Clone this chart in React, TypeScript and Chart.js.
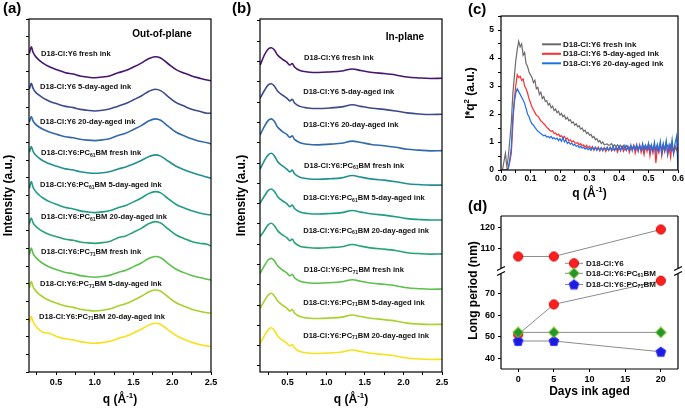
import { useEffect, useRef } from 'react';
import { Chart, registerables } from 'chart.js';
Chart.register(...registerables);

const FONT = "'Liberation Sans', Arial, Helvetica, sans-serif";

// ---------- Panel (a): out-of-plane ----------
const qA = [0.155, 0.18, 0.2, 0.23, 0.28, 0.33, 0.42, 0.52, 0.62, 0.72, 0.81, 0.9, 1.0, 1.1, 1.2, 1.3, 1.4, 1.5, 1.6, 1.7, 1.78, 1.85, 1.95, 2.05, 2.15, 2.25, 2.35, 2.45, 2.5];
const a1 = [18.05, 18.43, 18.14, 17.9, 17.67, 17.5, 17.28, 17.11, 16.96, 16.88, 16.77, 16.71, 16.67, 16.71, 16.79, 16.95, 17.08, 17.28, 17.5, 17.76, 17.86, 17.79, 17.45, 17.13, 16.94, 16.77, 16.65, 16.54, 16.5];
const a2 = [16.02, 16.36, 16.1, 15.88, 15.68, 15.53, 15.33, 15.18, 15.05, 14.98, 14.88, 14.83, 14.79, 14.83, 14.91, 15.06, 15.21, 15.42, 15.64, 15.91, 16.02, 15.94, 15.59, 15.26, 15.07, 14.89, 14.77, 14.66, 14.66];
const a3 = [14.17, 14.47, 14.24, 14.06, 13.88, 13.75, 13.58, 13.45, 13.33, 13.27, 13.19, 13.14, 13.11, 13.15, 13.23, 13.4, 13.53, 13.74, 13.96, 14.23, 14.34, 14.26, 13.91, 13.58, 13.39, 13.21, 13.07, 12.99, 12.92];
const a4 = [12.45, 12.77, 12.52, 12.32, 12.12, 11.97, 11.78, 11.64, 11.51, 11.44, 11.35, 11.29, 11.26, 11.29, 11.36, 11.5, 11.62, 11.79, 11.98, 12.21, 12.3, 12.23, 11.94, 11.66, 11.46, 11.3, 11.16, 11.04, 10.98];
const a5 = [10.41, 10.79, 10.5, 10.26, 10.03, 9.86, 9.64, 9.47, 9.32, 9.24, 9.13, 9.07, 9.03, 9.07, 9.15, 9.31, 9.44, 9.64, 9.86, 10.12, 10.22, 10.15, 9.81, 9.49, 9.3, 9.13, 9.01, 8.92, 8.9];
const a6 = [8.41, 8.72, 8.48, 8.29, 8.1, 7.96, 7.78, 7.65, 7.52, 7.46, 7.37, 7.32, 7.29, 7.33, 7.41, 7.61, 7.71, 7.92, 8.14, 8.41, 8.52, 8.44, 8.09, 7.76, 7.57, 7.39, 7.29, 7.24, 7.14];
const a7 = [6.67, 7.02, 6.75, 6.53, 6.31, 6.15, 5.94, 5.78, 5.64, 5.57, 5.46, 5.41, 5.37, 5.41, 5.49, 5.64, 5.77, 5.97, 6.18, 6.44, 6.54, 6.47, 6.13, 5.82, 5.63, 5.47, 5.35, 5.26, 5.22];
const a8 = [4.77, 5.13, 4.86, 4.63, 4.41, 4.25, 4.04, 3.88, 3.74, 3.66, 3.56, 3.5, 3.46, 3.5, 3.58, 3.74, 3.87, 4.07, 4.29, 4.55, 4.65, 4.58, 4.24, 3.92, 3.73, 3.56, 3.44, 3.36, 3.33];
const a9 = [2.82, 3.14, 2.89, 2.63, 2.41, 2.25, 2.18, 1.99, 1.88, 1.81, 1.72, 1.66, 1.63, 1.67, 1.74, 1.9, 2.02, 2.21, 2.42, 2.67, 2.76, 2.69, 2.37, 2.07, 1.85, 1.69, 1.56, 1.48, 1.44];

// ---------- Panel (b): in-plane ----------
const qB = [0.145, 0.2, 0.25, 0.29, 0.33, 0.37, 0.43, 0.49, 0.53, 0.56, 0.59, 0.66, 0.76, 0.9, 1.05, 1.2, 1.34, 1.45, 1.6, 1.75, 1.9, 2.05, 2.2, 2.35, 2.5];
const b1 = [17.39, 17.96, 18.3, 18.37, 18.24, 17.96, 17.73, 17.56, 17.39, 17.48, 17.28, 17.08, 17.0, 16.97, 17.0, 17.05, 17.17, 17.08, 16.97, 16.91, 16.83, 16.71, 16.66, 16.63, 16.64];
const b2 = [15.51, 15.95, 16.27, 16.33, 16.19, 15.92, 15.7, 15.52, 15.36, 15.45, 15.24, 15.05, 14.96, 14.93, 14.96, 15.02, 15.14, 15.05, 14.94, 14.88, 14.79, 14.68, 14.62, 14.59, 14.6];
const b3 = [13.43, 13.92, 14.26, 14.34, 14.19, 13.88, 13.64, 13.46, 13.3, 13.38, 13.18, 12.99, 12.9, 12.87, 12.91, 12.96, 13.08, 13.0, 12.88, 12.82, 12.73, 12.62, 12.57, 12.53, 12.54];
const b4 = [11.5, 11.98, 12.3, 12.39, 12.24, 11.93, 11.69, 11.5, 11.34, 11.44, 11.23, 11.03, 10.95, 10.92, 10.95, 11.0, 11.13, 11.04, 10.93, 10.87, 10.78, 10.67, 10.62, 10.59, 10.59];
const b5 = [9.57, 9.97, 10.29, 10.37, 10.23, 9.95, 9.71, 9.54, 9.37, 9.46, 9.26, 9.06, 8.98, 8.95, 8.98, 9.03, 9.15, 9.06, 8.95, 8.89, 8.8, 8.69, 8.64, 8.61, 8.61];
const b6 = [7.67, 8.02, 8.35, 8.43, 8.29, 8.01, 7.78, 7.61, 7.44, 7.53, 7.33, 7.13, 7.05, 7.02, 7.05, 7.1, 7.22, 7.13, 7.02, 6.96, 6.88, 6.76, 6.71, 6.68, 6.69];
const b7 = [5.59, 6.03, 6.36, 6.44, 6.3, 6.02, 5.79, 5.62, 5.45, 5.54, 5.34, 5.14, 5.06, 5.03, 5.06, 5.11, 5.23, 5.14, 5.03, 4.97, 4.89, 4.77, 4.72, 4.69, 4.7];
const b8 = [3.61, 4.03, 4.37, 4.46, 4.31, 4.03, 3.8, 3.62, 3.45, 3.54, 3.34, 3.14, 3.06, 3.03, 3.06, 3.11, 3.23, 3.14, 3.03, 2.97, 2.89, 2.77, 2.72, 2.69, 2.7];
const b9 = [1.63, 2.05, 2.4, 2.51, 2.35, 2.05, 1.82, 1.64, 1.47, 1.56, 1.36, 1.16, 1.08, 1.05, 1.08, 1.13, 1.25, 1.16, 1.05, 0.99, 0.91, 0.79, 0.74, 0.71, 0.72];

const sampleNames = [
  'D18-Cl:Y6 fresh ink',
  'D18-Cl:Y6 5-day-aged ink',
  'D18-Cl:Y6 20-day-aged ink',
  'D18-Cl:Y6:PC_{61}BM fresh ink',
  'D18-Cl:Y6:PC_{61}BM 5-day-aged ink',
  'D18-Cl:Y6:PC_{61}BM 20-day-aged ink',
  'D18-Cl:Y6:PC_{71}BM fresh ink',
  'D18-Cl:Y6:PC_{71}BM 5-day-aged ink',
  'D18-Cl:Y6:PC_{71}BM 20-day-aged ink',
];
// label anchors (q, intensity) in data units
const labelQA = [0.306, 0.293, 0.293, 0.306, 0.293, 0.306, 0.306, 0.293, 0.28];
const labelIA = [18.02, 16.13, 14.18, 12.39, 10.59, 8.76, 6.78, 4.99, 3.13];
const labelQB = [0.714, 0.702, 0.702, 0.714, 0.702, 0.702, 0.711, 0.702, 0.702];
const labelIB = [17.77, 15.85, 13.99, 11.69, 9.84, 8.01, 5.78, 3.93, 2.06];
const waterfallColors = ['#46166f', '#3c4a8c', '#3069ad', '#22908f', '#1f9c86', '#27a474', '#5bc14c', '#a7d22b', '#f6e11a'];

// ---------- Panel (c): I*q^2 ----------
const qC = [
  0.005, 0.01, 0.015, 0.02, 0.025, 0.03, 0.035, 0.04, 0.045, 0.05,
  0.055, 0.06, 0.065, 0.07, 0.075, 0.08, 0.085, 0.09, 0.095, 0.1,
  0.105, 0.11, 0.115, 0.12, 0.125, 0.13, 0.135, 0.14, 0.145, 0.15,
  0.155, 0.16, 0.165, 0.17, 0.175, 0.18, 0.185, 0.19, 0.195, 0.2,
  0.205, 0.21, 0.215, 0.22, 0.225, 0.23, 0.235, 0.24, 0.245, 0.25,
  0.255, 0.26, 0.265, 0.27, 0.275, 0.28, 0.285, 0.29, 0.295, 0.3,
  0.305, 0.31, 0.315, 0.32, 0.325, 0.33, 0.335, 0.34, 0.345, 0.35,
  0.355, 0.36, 0.365, 0.37, 0.375, 0.38, 0.385, 0.39, 0.395, 0.4,
  0.405, 0.41, 0.415, 0.42, 0.425, 0.43, 0.435, 0.44, 0.445, 0.45,
  0.455, 0.46, 0.465, 0.47, 0.475, 0.48, 0.485, 0.49, 0.495, 0.5,
  0.505, 0.51, 0.515, 0.52, 0.525, 0.53, 0.535, 0.54, 0.545, 0.55,
  0.555, 0.56, 0.565, 0.57, 0.575, 0.58, 0.585, 0.59, 0.595, 0.6,
];
const freshC = [
  0, 0.3, 0.6, 0.1, 0.5, 1.1, 1.7, 2.7, 3.3, 3.9,
  4.3, 4.6, 4.4, 4.5, 4.1, 4.2, 3.8, 3.7, 3.5, 3.4,
  3.3, 3.12, 3.2, 2.9, 2.95, 2.7, 2.78, 2.55, 2.62, 2.45,
  2.48, 2.32, 2.38, 2.22, 2.28, 2.12, 2.18, 2.05, 2.1, 1.96,
  2.02, 1.9, 1.95, 1.82, 1.88, 1.76, 1.8, 1.68, 1.72, 1.6,
  1.65, 1.54, 1.58, 1.46, 1.5, 1.38, 1.42, 1.3, 1.34, 1.24,
  1.27, 1.16, 1.2, 1.08, 1.12, 1.0, 1.05, 0.95, 1.0, 0.9,
  0.92, 0.93, 0.88, 0.9, 0.94, 0.84, 0.9, 0.83, 0.9, 0.82,
  0.88, 0.8, 0.88, 0.78, 0.87, 0.8, 0.76, 0.86, 0.78, 0.88,
  0.76, 0.85, 0.77, 0.87, 0.78, 0.74, 0.86, 0.76, 0.84, 0.74,
  0.88, 0.78, 0.72, 0.84, 0.76, 0.9, 0.72, 0.84, 0.76, 0.92,
  0.7, 0.82, 0.88, 0.68, 0.9, 0.76, 0.66, 0.86, 0.72, 0.8,
];
const aged5C = [
  0, 0, 0, 0, 0.1, 0.3, 0.6, 1.6, 2.5, 3.0,
  3.4, 3.3, 3.35, 3.2, 3.25, 3.0, 2.9, 2.75, 2.55, 2.4,
  2.25, 2.15, 2.05, 1.95, 1.92, 1.85, 1.75, 1.72, 1.65, 1.6,
  1.52, 1.48, 1.42, 1.38, 1.4, 1.3, 1.32, 1.25, 1.28, 1.2,
  1.22, 1.15, 1.2, 1.1, 1.14, 1.05, 1.08, 1.0, 1.04, 0.98,
  0.95, 0.98, 0.9, 0.94, 0.86, 0.9, 0.82, 0.88, 0.8, 0.85,
  0.76, 0.84, 0.7, 0.8, 0.74, 0.82, 0.68, 0.78, 0.72, 0.8,
  0.66, 0.76, 0.7, 0.82, 0.68, 0.75, 0.7, 0.8, 0.64, 0.78,
  0.72, 0.84, 0.66, 0.76, 0.7, 0.85, 0.62, 0.78, 0.72, 0.88,
  0.6, 0.8, 0.7, 0.9, 0.62, 0.82, 0.55, 0.86, 0.66, 0.92,
  0.5, 0.84, 0.6, 0.9, 0.25, 0.8, 0.62, 0.95, 0.5, 0.86,
  0.65, 0.96, 0.55, 0.85, 0.45, 0.9, 0.6, 0.82, 0.7, 0.75,
];
const aged20C = [
  0, 0, 0, 0, 0.05, 0.4, 0.8, 1.9, 2.4, 2.75,
  2.9, 2.8, 2.7, 2.6, 2.5, 2.38, 2.2, 2.0, 1.9, 1.75,
  1.65, 1.6, 1.52, 1.45, 1.38, 1.35, 1.3, 1.26, 1.22, 1.24,
  1.18, 1.2, 1.15, 1.2, 1.12, 1.15, 1.1, 1.14, 1.05, 1.12,
  1.02, 1.15, 1.0, 1.08, 0.95, 1.0, 0.92, 0.96, 0.88, 0.92,
  0.84, 0.88, 0.8, 0.85, 0.78, 0.82, 0.75, 0.8, 0.72, 0.78,
  0.7, 0.8, 0.74, 0.82, 0.7, 0.78, 0.72, 0.8, 0.68, 0.78,
  0.74, 0.82, 0.7, 0.8, 0.72, 0.85, 0.7, 0.8, 0.74, 0.86,
  0.68, 0.82, 0.75, 0.88, 0.7, 0.84, 0.72, 0.9, 0.68, 0.85,
  0.74, 0.92, 0.66, 0.86, 0.72, 0.95, 0.68, 0.88, 0.75, 0.96,
  0.65, 0.9, 0.7, 1.0, 0.62, 0.92, 0.68, 1.02, 0.6, 0.95,
  0.7, 1.05, 0.55, 0.9, 0.72, 1.1, 0.58, 0.95, 1.2, 0,
];
const legendC = ['D18-Cl:Y6 fresh ink', 'D18-Cl:Y6 5-day-aged ink', 'D18-Cl:Y6 20-day-aged ink'];
const colorsC = ['#6b6b6b', '#ff2d2d', '#1f6fe6'];

// ---------- Panel (d): long period ----------
const daysD = [0, 5, 20];
const y6LongD = [106, 106, 119];
const y6ShortD = [51, 65, 76];
const pc61D = [52, 52, 52];
const pc71D = [48, 48, 43];
const legendD = ['D18-Cl:Y6', 'D18-Cl:Y6:PC_{61}BM', 'D18-Cl:Y6:PC_{71}BM'];

// ---------- helpers ----------
type Seg = { t: string; k: number };
function segs(s: string): Seg[] {
  const out: Seg[] = [];
  const re = /([_^])\{([^}]*)\}/g;
  let last = 0;
  let m: RegExpExecArray | null;
  while ((m = re.exec(s))) {
    if (m.index > last) out.push({ t: s.slice(last, m.index), k: 0 });
    out.push({ t: m[2], k: m[1] === '_' ? 1 : 2 });
    last = re.lastIndex;
  }
  if (last < s.length) out.push({ t: s.slice(last), k: 0 });
  return out;
}
function drawRich(ctx: CanvasRenderingContext2D, s: string, x: number, y: number, size: number, align = 'left', rot = 0, color = '#000') {
  const parts = segs(s);
  const big = `bold ${size}px ${FONT}`;
  const small = `bold ${(size * 0.66).toFixed(2)}px ${FONT}`;
  ctx.save();
  ctx.translate(x, y);
  if (rot) ctx.rotate(rot);
  ctx.textBaseline = 'middle';
  ctx.textAlign = 'left';
  ctx.fillStyle = color;
  let w = 0;
  const ws = parts.map((p) => {
    ctx.font = p.k ? small : big;
    const mw = ctx.measureText(p.t).width;
    w += mw;
    return mw;
  });
  let cx = align === 'center' ? -w / 2 : align === 'right' ? -w : 0;
  parts.forEach((p, i) => {
    ctx.font = p.k ? small : big;
    const dy = p.k === 1 ? size * 0.3 : p.k === 2 ? -size * 0.36 : 0;
    ctx.fillText(p.t, cx, dy);
    cx += ws[i];
  });
  ctx.restore();
}
function box(ctx: CanvasRenderingContext2D, a: { left: number; top: number; right: number; bottom: number }) {
  ctx.save();
  ctx.strokeStyle = '#000';
  ctx.lineWidth = 1.2;
  ctx.strokeRect(a.left, a.top, a.right - a.left, a.bottom - a.top);
  ctx.restore();
}
const tickFont = (size: number) => ({ family: FONT, size, weight: 'bold' as const });
const gridOpt = { drawOnChartArea: false, drawTicks: true, tickLength: 3, color: '#000', tickWidth: 1 };
const pts = (xs: number[], ys: number[]) => ys.map((y, i) => ({ x: xs[i], y }));
const tickList = (vals: number[]) => (s: any) => { s.ticks = vals.map((value) => ({ value })); };

function marker(kind: string, fill: string, stroke: string) {
  const c = document.createElement('canvas');
  c.width = 12; c.height = 12;
  const g = c.getContext('2d')!;
  g.fillStyle = fill; g.strokeStyle = stroke; g.lineWidth = 1;
  g.beginPath();
  if (kind === 'circle') g.arc(6, 6, 4.6, 0, Math.PI * 2);
  else if (kind === 'diamond') { g.moveTo(6, 0.6); g.lineTo(11.4, 6); g.lineTo(6, 11.4); g.lineTo(0.6, 6); g.closePath(); }
  else {
    for (let i = 0; i < 5; i++) {
      const an = -Math.PI / 2 + (i * 2 * Math.PI) / 5;
      const px = 6 + 5.2 * Math.cos(an), py = 6.4 + 5.2 * Math.sin(an);
      if (i) g.lineTo(px, py); else g.moveTo(px, py);
    }
    g.closePath();
  }
  g.fill(); g.stroke();
  return c;
}

function waterfall(canvas: HTMLCanvasElement, cfg: any) {
  const series = cfg.series as number[][];
  return new Chart(canvas, {
    type: 'line',
    data: {
      datasets: series.map((vals, i) => ({
        data: pts(cfg.q, vals),
        borderColor: waterfallColors[i],
        borderWidth: 1.6,
        pointRadius: 0,
        cubicInterpolationMode: 'monotone' as const,
        fill: false,
      })),
    },
    options: {
      animation: false,
      responsive: false,
      maintainAspectRatio: false,
      layout: { padding: { top: 19, right: cfg.padRight, left: 0, bottom: 0 } },
      plugins: { legend: { display: false }, tooltip: { enabled: false } },
      scales: {
        x: {
          type: 'linear', min: cfg.xmin, max: 2.5,
          afterFit: (s: any) => { s.height = 37; },
          afterBuildTicks: tickList([0.25, 0.5, 0.75, 1.0, 1.25, 1.5, 1.75, 2.0, 2.25, 2.5]),
          ticks: {
            autoSkip: false, maxRotation: 0, padding: 2, color: '#000', font: tickFont(9),
            callback: (v: any) => (Math.abs(v * 2 - Math.round(v * 2)) < 1e-6 ? Number(v).toFixed(1) : ''),
          },
          grid: gridOpt, border: { display: false },
        },
        y: {
          type: 'linear', min: 0, max: 20,
          afterFit: (s: any) => { s.width = cfg.yWidth; },
          afterBuildTicks: tickList(cfg.yTicks),
          ticks: { display: false },
          grid: gridOpt, border: { display: false },
        },
      },
    },
    plugins: [{
      id: 'decor',
      afterDraw: (chart: any) => {
        const ctx = chart.ctx as CanvasRenderingContext2D;
        const a = chart.chartArea;
        const xs = chart.scales.x, ys = chart.scales.y;
        box(ctx, a);
        sampleNames.forEach((n, i) => {
          drawRich(ctx, n, xs.getPixelForValue(cfg.lq[i]), ys.getPixelForValue(cfg.li[i]), 7.6, 'left', 0, '#111');
        });
        drawRich(ctx, cfg.tag, cfg.tagPos[0], cfg.tagPos[1], 10, 'center');
        drawRich(ctx, cfg.letter, cfg.letterX, 9, 15, 'left');
        drawRich(ctx, 'Intensity (a.u.)', cfg.yTitleX, (a.top + a.bottom) / 2, 12, 'center', -Math.PI / 2);
        drawRich(ctx, 'q (Å^{-1})', (a.left + a.right) / 2, 400, 12, 'center');
      },
    }],
  } as any);
}

function makeC(canvas: HTMLCanvasElement) {
  const sets = [freshC, aged5C, aged20C];
  return new Chart(canvas, {
    type: 'line',
    data: {
      datasets: sets.map((vals, i) => ({
        data: pts(qC, vals),
        borderColor: colorsC[i],
        borderWidth: 1.2,
        pointRadius: 0,
        tension: 0,
        fill: false,
        order: 3 - i,
      })),
    },
    options: {
      animation: false, responsive: false, maintainAspectRatio: false,
      layout: { padding: { top: 16, right: 7, left: 0, bottom: 0 } },
      plugins: { legend: { display: false }, tooltip: { enabled: false } },
      scales: {
        x: {
          type: 'linear', min: 0, max: 0.6,
          afterFit: (s: any) => { s.height = 30; },
          afterBuildTicks: tickList([0, 0.05, 0.1, 0.15, 0.2, 0.25, 0.3, 0.35, 0.4, 0.45, 0.5, 0.55, 0.6]),
          ticks: {
            autoSkip: false, maxRotation: 0, padding: 1, color: '#000', font: tickFont(8.5),
            callback: (v: any) => (Math.abs(v * 10 - Math.round(v * 10)) < 1e-6 ? Number(v).toFixed(1) : ''),
          },
          grid: gridOpt, border: { display: false },
        },
        y: {
          type: 'linear', min: 0, max: 5.5,
          afterFit: (s: any) => { s.width = 45; },
          afterBuildTicks: tickList([0, 0.5, 1, 1.5, 2, 2.5, 3, 3.5, 4, 4.5, 5, 5.5]),
          ticks: {
            autoSkip: false, padding: 4, color: '#000', font: tickFont(8.5),
            callback: (v: any) => (Number.isInteger(v) ? String(v) : ''),
          },
          grid: gridOpt, border: { display: false },
        },
      },
    },
    plugins: [{
      id: 'decorC',
      afterDraw: (chart: any) => {
        const ctx = chart.ctx as CanvasRenderingContext2D;
        const a = chart.chartArea;
        box(ctx, a);
        legendC.forEach((n, i) => {
          const y = 44.3 + i * 9.5;
          ctx.save();
          ctx.strokeStyle = colorsC[i];
          ctx.lineWidth = 2;
          ctx.beginPath(); ctx.moveTo(86, y); ctx.lineTo(105, y); ctx.stroke();
          ctx.restore();
          drawRich(ctx, n, 107, y, 8, 'left', 0, '#111');
        });
        drawRich(ctx, '(c)', 12, 10, 15, 'left');
        drawRich(ctx, 'I*q^{2} (a.u.)', 15, (a.top + a.bottom) / 2, 12, 'center', -Math.PI / 2);
        drawRich(ctx, 'q (Å^{-1})', (a.left + a.right) / 2, 194, 12, 'center');
      },
    }],
  } as any);
}

function makeD(canvas: HTMLCanvasElement) {
  const mRed = marker('circle', '#ff1f1f', '#d01010');
  const mGreen = marker('diamond', '#23962a', '#9ccc2a');
  const mBlue = marker('pentagon', '#1c1ce0', '#3a3aff');
  const line = '#8c8c8c';
  const ds = (ys: number[], axis: string, img: any, order: number) => ({
    data: pts(daysD, ys), yAxisID: axis, borderColor: line, borderWidth: 1,
    pointStyle: img, pointRadius: 5, order, fill: false, tension: 0,
  });
  return new Chart(canvas, {
    type: 'line',
    data: {
      datasets: [
        ds(y6LongD, 'yTop', mRed, 2),
        ds(y6ShortD, 'yBot', mRed, 2),
        ds(pc61D, 'yBot', mGreen, 0),
        ds(pc71D, 'yBot', mBlue, 1),
      ],
    },
    options: {
      animation: false, responsive: false, maintainAspectRatio: false,
      layout: { padding: { top: 16, right: 7, left: 0, bottom: 0 } },
      plugins: { legend: { display: false }, tooltip: { enabled: false } },
      scales: {
        x: {
          type: 'linear', min: -2.4, max: 22.4,
          afterFit: (s: any) => { s.height = 40; },
          afterBuildTicks: tickList([0, 5, 10, 15, 20]),
          ticks: { autoSkip: false, maxRotation: 0, padding: 2, color: '#000', font: tickFont(9) },
          grid: gridOpt, border: { display: false },
        },
        yTop: {
          type: 'linear', position: 'left', stack: 'lp', stackWeight: 55, weight: 1,
          min: 99, max: 125.5,
          afterFit: (s: any) => { s.width = 45; },
          afterBuildTicks: tickList([110, 120]),
          ticks: { autoSkip: false, padding: 3, color: '#000', font: tickFont(9) },
          grid: gridOpt, border: { display: false },
        },
        yBot: {
          type: 'linear', position: 'left', stack: 'lp', stackWeight: 98, weight: 0,
          min: 35, max: 80.5,
          afterFit: (s: any) => { s.width = 45; },
          afterBuildTicks: tickList([40, 50, 60, 70]),
          ticks: { autoSkip: false, padding: 3, color: '#000', font: tickFont(9) },
          grid: gridOpt, border: { display: false },
        },
      },
    },
    plugins: [{
      id: 'decorD',
      afterDraw: (chart: any) => {
        const ctx = chart.ctx as CanvasRenderingContext2D;
        const a = chart.chartArea;
        const by = chart.scales.yBot.top;
        ctx.save();
        ctx.strokeStyle = '#000';
        ctx.lineWidth = 1.2;
        ctx.beginPath();
        ctx.moveTo(a.left, a.top); ctx.lineTo(a.right, a.top);
        ctx.moveTo(a.left, a.bottom); ctx.lineTo(a.right, a.bottom);
        [a.left, a.right].forEach((x) => {
          ctx.moveTo(x, a.top); ctx.lineTo(x, by - 2.5);
          ctx.moveTo(x, by + 2.5); ctx.lineTo(x, a.bottom);
          ctx.moveTo(x - 4, by - 0.5); ctx.lineTo(x + 4, by - 4.5);
          ctx.moveTo(x - 4, by + 4.5); ctx.lineTo(x + 4, by + 0.5);
        });
        ctx.stroke();
        ctx.restore();
        const imgs = [mRed, mGreen, mBlue];
        legendD.forEach((n, i) => {
          const y = [63.3, 73.3, 84.5][i];
          ctx.save();
          ctx.strokeStyle = line; ctx.lineWidth = 1;
          ctx.beginPath(); ctx.moveTo(109, y); ctx.lineTo(127, y); ctx.stroke();
          ctx.drawImage(imgs[i], 118 - 6, y - 6);
          ctx.restore();
          drawRich(ctx, n, 130, y, 8, 'left', 0, '#111');
        });
        drawRich(ctx, '(d)', 12, 7, 15, 'left');
        drawRich(ctx, 'Long period (nm)', 18, (a.top + a.bottom) / 2 - 2, 12, 'center', -Math.PI / 2);
        drawRich(ctx, 'Days ink aged', (a.left + a.right) / 2, 192, 12, 'center');
      },
    }],
  } as any);
}

export default function App() {
  const aRef = useRef<HTMLCanvasElement>(null);
  const bRef = useRef<HTMLCanvasElement>(null);
  const cRef = useRef<HTMLCanvasElement>(null);
  const dRef = useRef<HTMLCanvasElement>(null);
  useEffect(() => {
    const yTicksA = [0, 1, 2, 3, 4, 5, 6, 7, 8, 9, 10, 11, 12, 13, 14, 15, 16, 17, 18, 19, 20];
    const yTicksB: number[] = [];
    for (let k = 0; k <= 17; k++) yTicksB.push(0.34 + k * 1.15);
    const charts: Chart[] = [
      waterfall(aRef.current!, {
        q: qA, series: [a1, a2, a3, a4, a5, a6, a7, a8, a9], xmin: 0.15, padRight: 15, yWidth: 29,
        yTicks: yTicksA, lq: labelQA, li: labelIA, tag: 'Out-of-plane', tagPos: [162, 34.5],
        letter: '(a)', letterX: 3, yTitleX: 9,
      }),
      waterfall(bRef.current!, {
        q: qB, series: [b1, b2, b3, b4, b5, b6, b7, b8, b9], xmin: 0.143, padRight: 14, yWidth: 34,
        yTicks: yTicksB, lq: labelQB, li: labelIB, tag: 'In-plane', tagPos: [179, 37],
        letter: '(b)', letterX: 6, yTitleX: 16,
      }),
      makeC(cRef.current!),
      makeD(dRef.current!),
    ];
    return () => charts.forEach((c) => c.destroy());
  }, []);
  const cs = (l: number, t: number, w: number, h: number) => ({ position: 'absolute' as const, left: l, top: t, width: w, height: h });
  return (
    <div style={{ position: 'absolute', left: 0, top: 0, width: 685, height: 409, background: '#fff', overflow: 'hidden' }}>
      <canvas ref={aRef} width={226} height={409} style={cs(0, 0, 226, 409)} />
      <canvas ref={bRef} width={230} height={409} style={cs(226, 0, 230, 409)} />
      <canvas ref={cRef} width={229} height={200} style={cs(456, 0, 229, 200)} />
      <canvas ref={dRef} width={229} height={209} style={cs(456, 200, 229, 209)} />
    </div>
  );
}
